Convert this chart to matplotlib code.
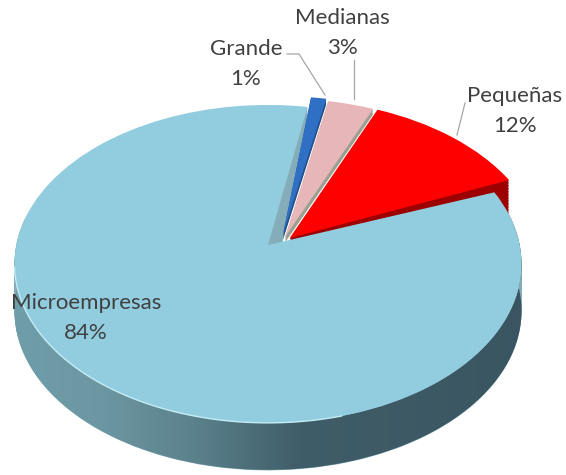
import numpy as np
from matplotlib import pyplot as plt
from matplotlib.colors import LinearSegmentedColormap
from matplotlib.patches import Wedge
from matplotlib.path import Path
from matplotlib.transforms import Affine2D, Transform

labels = ['Microempresas', 'Grande', 'Medianas', 'Pequeñas']
values = [83.5, 1.1, 3.3, 12.1]

top_colors = ['#92cddf', '#2f6fc4', '#e6b6b9', '#fe0000']
side_colors = ['#84adb9', '#24508c', '#9a9f8f', '#9c0000']
side_depths = [47, 5, 5, 32]
# how far each slice is pulled out of the pie (unit circle coords)
shifts = [(0, 0), (0.06, 0.07), (0.068, 0.051), (0.087, 0.045)]
turn = [0, 2.5, 2.5, 2.5]

label_pos = [(86, 318), (246, 64), (342, 33), (515, 111)]
leaders = [[(287, 54), (299, 54), (325, 95)],
           [(354, 60), (354, 99)],
           [(465, 103), (457, 135)]]

plt.rcParams['font.family'] = ['Lato', 'DejaVu Sans']


class Perspective(Transform):
    """Tilted pie: unit circle to picture pixels."""
    input_dims = 2
    output_dims = 2

    def transform_non_affine(self, values):
        x, y = values[:, 0], values[:, 1]
        w = 1 + 0.119 * y
        return np.column_stack([268 + 251.7 * x / w, 245 - 156.7 * y / w])


persp = Perspective()

fig = plt.figure(figsize=(5.66, 4.75), dpi=100)
ax = fig.add_axes([0, 0, 1, 1])

wedges, _ = ax.pie(values, colors=top_colors, startangle=20.5, counterclock=False)

top_order = [9, 4, 6, 8]
for w, shift, z, dt in zip(wedges, shifts, top_order, turn):
    w.set_center(shift)
    w.set_theta1(w.theta1 + dt)
    w.set_theta2(w.theta2 + dt)
    w.set_transform(persp + ax.transData)
    w.set_zorder(z)
    w.set_linewidth(0)

# extruded sides: the same slice stacked downwards
for w, col, depth, z in zip(wedges, side_colors, side_depths, top_order):
    for d in np.arange(1, depth + 1, 1.5):
        side = Wedge(w.center, w.r, w.theta1, w.theta2, facecolor=col, linewidth=0,
                     zorder=z - 1 if z != 9 else 1)
        side.set_transform(persp + Affine2D().translate(0, d) + ax.transData)
        ax.add_patch(side)

# rim of the big slice with the shading from left to right, front part only
micro = wedges[0]
t = np.radians(np.linspace(-190, micro.theta2, 400))
arc = persp.transform(np.column_stack([np.cos(t), np.sin(t)]))
ribbon = np.vstack([arc, (arc + [0, side_depths[0]])[::-1], arc[:1]])
rim_cmap = LinearSegmentedColormap.from_list('rim', [
    (0.0, '#6f9eab'), (0.18, '#6c97a2'), (0.35, '#5a808b'), (0.53, '#3f5d68'), (1.0, '#395460')])
im = ax.imshow(np.linspace(0, 1, 256)[None, :], cmap=rim_cmap, extent=(0, 566, 475, 0),
               aspect='auto', interpolation='bilinear', zorder=2)
im.set_clip_path(Path(ribbon), ax.transData)

# light edge on the lower left of the top face
t = np.radians(np.linspace(188, 285, 120))
edge = persp.transform(np.column_stack([np.cos(t), np.sin(t)]))
ax.plot(edge[:, 0], edge[:, 1], color='#c4ecf5', lw=1.0, zorder=10)

for pts in leaders:
    xs, ys = zip(*pts)
    ax.plot(xs, ys, color='#a6a6a6', lw=0.9, zorder=11)

for lab, val, pos in zip(labels, values, label_pos):
    ax.text(pos[0], pos[1], f'{lab}\n{val:.0f}%', ha='center', va='center', fontsize=16,
            color='#404040', linespacing=1.57, zorder=12)

ax.set_aspect('auto')
ax.set_xlim(0, 566)
ax.set_ylim(475, 0)
ax.axis('off')

fig.savefig('out.png', dpi=100)
